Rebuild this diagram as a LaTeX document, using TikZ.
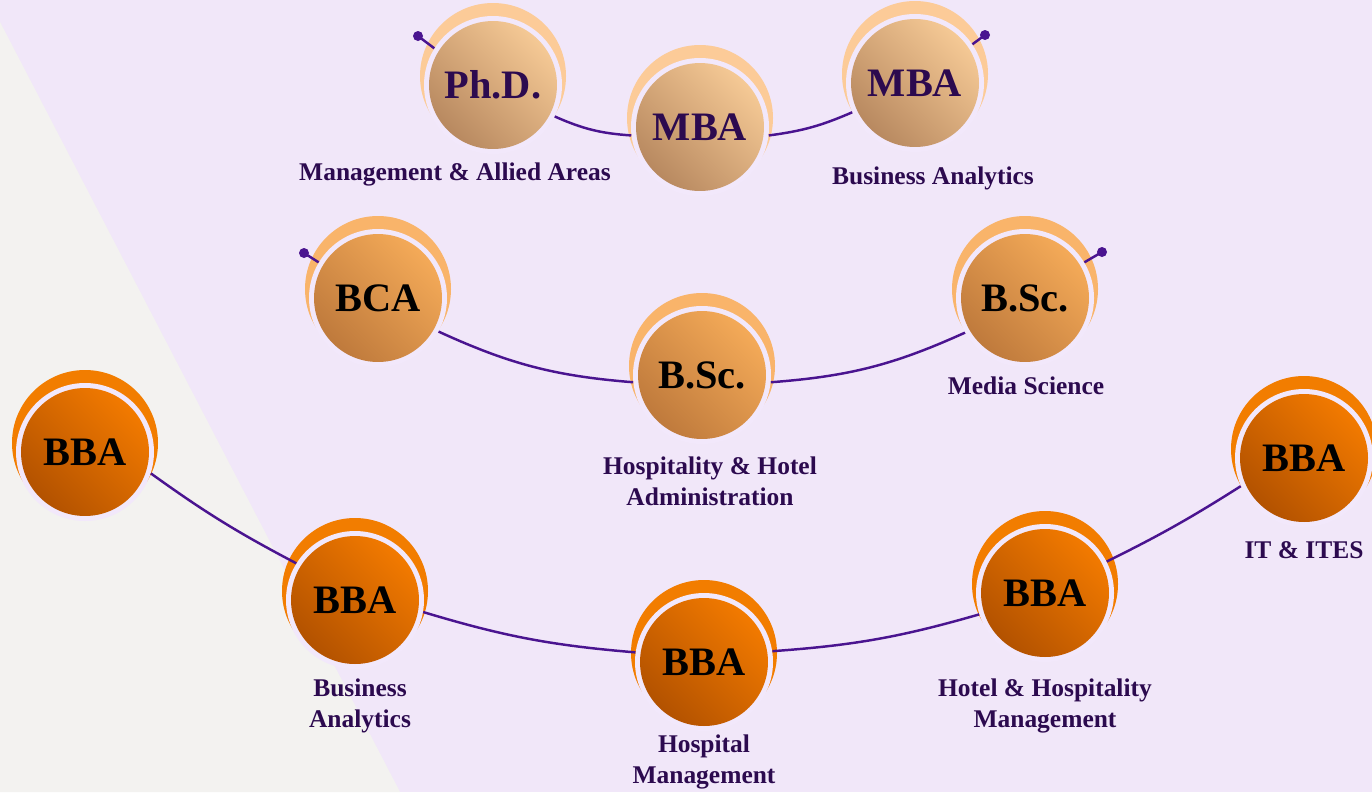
\documentclass[tikz,border=0pt]{standalone}
\usepackage{fontspec}
\setmainfont{Liberation Serif}
\usetikzlibrary{positioning}
\definecolor{bgLav}{HTML}{F1E7F9}
\definecolor{bgGrey}{HTML}{F3F2F0}
\definecolor{haloLav}{HTML}{F2E8FB}
\definecolor{ink}{HTML}{2C0A4F}
\definecolor{linkPurple}{HTML}{4A1490}
\definecolor{peachHi}{HTML}{F5C995}
\definecolor{peachLo}{HTML}{B88960}
\definecolor{peachRing}{HTML}{FCCB98}
\definecolor{amberHi}{HTML}{F4AA58}
\definecolor{amberLo}{HTML}{BF7A3C}
\definecolor{amberRing}{HTML}{F9B46A}
\definecolor{orangeHi}{HTML}{F27A00}
\definecolor{orangeLo}{HTML}{B35200}
\definecolor{orangeRing}{HTML}{F27D00}
% ring + halo behind a badge: colour, x, y
\newcommand{\ring}[3]{%
  \fill[#1] (#2,#3-9) circle[radius=73];
  \fill[haloLav] (#2,#3) circle[radius=69];}

\begin{document}
\begin{tikzpicture}[x=0.02cm, y=-0.02cm,
  badge/.style={circle, minimum size=2.56cm, inner sep=0pt, outer sep=3pt,
                font=\fontsize{23}{26}\selectfont\bfseries},
  peach/.style={badge, top color=peachHi, bottom color=peachLo, shading angle=-45, text=ink},
  amber/.style={badge, top color=amberHi, bottom color=amberLo, shading angle=-45, text=black},
  hot/.style={badge, top color=orangeHi, bottom color=orangeLo, shading angle=-45, text=black},
  link/.style={draw=linkPurple, line width=1.4pt},
  lbl/.style={font=\fontsize{14.5}{17.5}\selectfont\bfseries, text=ink, align=center},
]
\useasboundingbox (0,0) rectangle (1372,792);
\fill[bgLav] (0,0) rectangle (1372,792);
\fill[bgGrey] (0,22) -- (400,792) -- (0,792) -- cycle;

% Row 1: postgraduate
\ring{peachRing}{493}{85}
\ring{peachRing}{700}{127}
\ring{peachRing}{915}{83}
\node[peach] (phd) at (493,85) {Ph.D.};
\node[peach] (mba) at (700,127) {MBA};
\node[peach] (mbaba) at (915,83) {MBA};

% Row 2: B.Sc. / BCA
\ring{amberRing}{378}{298}
\ring{amberRing}{702}{375}
\ring{amberRing}{1025}{298}
\node[amber] (bca) at (378,298) {BCA};
\node[amber] (bschha) at (702,375) {B.Sc.};
\node[amber] (bscms) at (1025,298) {B.Sc.};

% Row 3: BBA
\ring{orangeRing}{85}{452}
\ring{orangeRing}{355}{600}
\ring{orangeRing}{704}{662}
\ring{orangeRing}{1045}{593}
\ring{orangeRing}{1304}{458}
\node[hot] (bba) at (85,452) {BBA};
\node[hot] (bbaba) at (355,600) {BBA};
\node[hot] (bbahm) at (704,662) {BBA};
\node[hot] (bbahhm) at (1045,593) {BBA};
\node[hot] (bbait) at (1304,458) {BBA};

% labels
\node[lbl] (lphd) at (455,174) {Management \& Allied Areas};
\node[lbl] (lmbaba) at (933,178) {Business Analytics};
\node[lbl] (lbschha) at (710,481) {Hospitality \& Hotel\\Administration};
\node[lbl] (lbscms) at (1026,386) {Media Science};
\node[lbl] (lbbaba) at (360,706) {Business\\Analytics};
\node[lbl] (lbbahm) at (704,762) {Hospital\\Management};
\node[lbl] (lbbahhm) at (1045,706) {Hotel \& Hospitality\\Management};
\node[lbl] (lbbait) at (1304,550) {IT \& ITES};

% pins
\coordinate (pphd) at (418,36);
\coordinate (pmbaba) at (985,35);
\coordinate (pbca) at (304,253);
\coordinate (pbscms) at (1102,252);
\draw[link] (phd.148) -- (pphd);
\draw[link] (mbaba.34) -- (pmbaba);
\draw[link] (bca.149) -- (pbca);
\draw[link] (bscms.31) -- (pbscms);
\foreach \p in {pphd,pmbaba,pbca,pbscms}
  \fill[linkPurple] (\p) circle[radius=5];

% links
\draw[link] (phd.-27) to[bend right=10] (mba.187);
\draw[link] (mba.-7) to[bend right=8] (mbaba.205);
\draw[link] (bca.-29) to[bend right=10] (bschha.186);
\draw[link] (bschha.-6) to[bend right=10] (bscms.210);
\draw[link] (bba.-18) to[bend right=4] (bbaba.148);
\draw[link] (bbaba.-10) to[bend right=6] (bbahm.172);
\draw[link] (bbahm.9) to[bend right=6] (bbahhm.198);
\draw[link] (bbahhm.27) to[bend right=3] (bbait.204);
\end{tikzpicture}
\end{document}
